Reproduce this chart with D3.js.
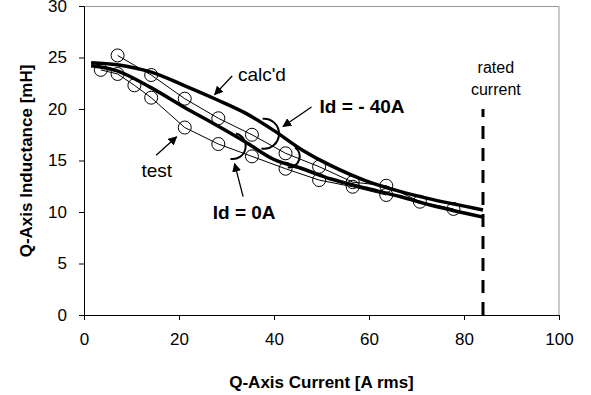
<!DOCTYPE html>
<html>
<head>
    <style>
        body { margin: 0; background: #fff; }
        text { font-family: 'Liberation Sans', Arial, sans-serif; fill: #000; }
        .tick text { font-size: 17px; }
        .title { font-size: 17px; font-weight: bold; }
        .note { font-size: 16px; }
        .callout { font-size: 19px; }
        .bold { font-size: 19px; font-weight: bold; }
    </style>
    <script src="https://cdn.jsdelivr.net/npm/d3@7"></script>
</head>
<body>
<script>
    "use strict";
    // test points, Id = -40A (upper thin line)
    var testNegX = [7.07, 14.14, 21.21, 28.28, 35.36, 42.43, 49.5, 56.57, 63.64, 70.71, 77.78];
    var testNegY = [25.2, 23.3, 21.0, 19.1, 17.5, 15.7, 14.4, 12.9, 12.55, 11.0, 10.3];
    // test points, Id = 0A (lower thin line)
    var testZeroX = [3.54, 7.07, 10.61, 14.14, 21.21, 28.28, 35.36, 42.43, 49.5, 56.57, 63.64];
    var testZeroY = [23.8, 23.4, 22.3, 21.1, 18.2, 16.6, 15.4, 14.2, 13.1, 12.45, 11.65];
    // calculated curves
    var calcX = [1.5, 7, 14, 21, 28, 34, 40, 46, 52, 59.5, 66.5, 73.5, 84];
    var calcNegY = [24.5, 24.3, 23.6, 22.3, 20.9, 19.6, 17.9, 16.0, 14.5, 13.0, 12.0, 11.2, 10.2];
    var calcZeroY = [24.2, 23.7, 22.1, 20.2, 18.4, 16.8, 15.1, 14.2, 13.2, 12.3, 11.5, 10.6, 9.5];
    var ratedCurrent = 84;
    var xTicks = [0, 20, 40, 60, 80, 100];
    var yTicks = [0, 5, 10, 15, 20, 25, 30];

    var margin = { top: 6, left: 84, right: 32, bottom: 80 },
        W = 591, H = 395,
        width = W - margin.left - margin.right,
        height = H - margin.top - margin.bottom;

    var x = d3.scaleLinear().domain([0, 100]).range([0, width]);
    var y = d3.scaleLinear().domain([0, 30]).range([height, 0]);

    var svg = d3.select("body").append("svg")
        .attr("width", W).attr("height", H);

    svg.append("defs").append("marker")
        .attr("id", "head")
        .attr("viewBox", "0 0 10 10")
        .attr("refX", 9).attr("refY", 5)
        .attr("markerWidth", 9).attr("markerHeight", 9)
        .attr("markerUnits", "userSpaceOnUse")
        .attr("orient", "auto")
        .append("path").attr("d", "M0,0L10,5L0,10z").attr("fill", "#000");

    var g = svg.append("g")
        .attr("transform", "translate(" + margin.left + "," + margin.top + ")");

    // gray frame top/right
    g.append("path")
        .attr("d", "M0,0.5H" + width + "V" + height)
        .attr("fill", "none").attr("stroke", "#999").attr("stroke-width", 1);

    g.append("g")
        .attr("transform", "translate(0," + height + ")")
        .call(d3.axisBottom(x).tickValues(xTicks).tickSize(5).tickPadding(13).tickSizeOuter(0));
    g.append("g")
        .call(d3.axisLeft(y).tickValues(yTicks).tickSize(5).tickPadding(12).tickSizeOuter(0));
    g.selectAll(".domain, .tick line").attr("stroke", "#000");
    g.selectAll(".tick text").attr("font-family", null).attr("font-size", null);

    g.append("text").attr("class", "title")
        .attr("x", width / 2).attr("y", height + 73)
        .attr("text-anchor", "middle")
        .text("Q-Axis Current [A rms]");
    g.append("text").attr("class", "title")
        .attr("transform", "rotate(-90)")
        .attr("x", -155).attr("y", -52)
        .attr("text-anchor", "middle")
        .text("Q-Axis Inductance [mH]");

    // rated current marker
    g.append("line")
        .attr("x1", x(ratedCurrent)).attr("x2", x(ratedCurrent))
        .attr("y1", y(0)).attr("y2", y(20))
        .attr("stroke", "#000").attr("stroke-width", 3)
        .attr("stroke-dasharray", "13,9");
    g.append("text").attr("class", "note").attr("text-anchor", "middle")
        .attr("x", x(86.7)).attr("y", y(23.5)).text("rated");
    g.append("text").attr("class", "note").attr("text-anchor", "middle")
        .attr("x", x(86.7)).attr("y", y(21.4)).text("current");

    function pts(xs, ys) { return xs.map(function (v, i) { return [v, ys[i]]; }); }

    var thin = d3.line().x(function (d) { return x(d[0]); }).y(function (d) { return y(d[1]); });
    var thick = d3.line().curve(d3.curveCatmullRom)
        .x(function (d) { return x(d[0]); }).y(function (d) { return y(d[1]); });

    [pts(testNegX, testNegY), pts(testZeroX, testZeroY)].forEach(function (s) {
        g.append("path").datum(s).attr("d", thin)
            .attr("fill", "none").attr("stroke", "#000").attr("stroke-width", 1);
        g.selectAll(null).data(s).enter().append("circle")
            .attr("cx", function (d) { return x(d[0]); })
            .attr("cy", function (d) { return y(d[1]); })
            .attr("r", 6.5)
            .attr("fill", "none").attr("stroke", "#000").attr("stroke-width", 1);
    });

    [pts(calcX, calcNegY), pts(calcX, calcZeroY)].forEach(function (s) {
        g.append("path").datum(s).attr("d", thick)
            .attr("fill", "none").attr("stroke", "#000").attr("stroke-width", 3.5);
    });

    // bracket arcs marking the calc'd curves
    var arcs = [
        { cx: 37.9, cy: 17.6, r: 15, a0: -95, a1: 100 },
        { cx: 43.1, cy: 15.4, r: 11, a0: -55, a1: 95 },
        { cx: 31.3, cy: 16.4, r: 13, a0: -75, a1: 100 }
    ];
    arcs.forEach(function (a) {
        var p = d3.path();
        p.arc(x(a.cx), y(a.cy), a.r, a.a0 * Math.PI / 180, a.a1 * Math.PI / 180);
        g.append("path").attr("d", p.toString())
            .attr("fill", "none").attr("stroke", "#000").attr("stroke-width", 2);
    });

    // annotation arrows: [tailX, tailY, headX, headY]
    var arrows = [
        [31.2, 23.2, 27.5, 21.4],
        [15.2, 15.5, 19.5, 17.3],
        [47.9, 20.2, 41.9, 18.3],
        [33.5, 11.5, 31.7, 14.7]
    ];
    arrows.forEach(function (a) {
        g.append("line")
            .attr("x1", x(a[0])).attr("y1", y(a[1]))
            .attr("x2", x(a[2])).attr("y2", y(a[3]))
            .attr("stroke", "#000").attr("stroke-width", 1.3)
            .attr("marker-end", "url(#head)");
    });

    g.append("text").attr("class", "callout").attr("x", x(32.4)).attr("y", y(22.7)).text("calc'd");
    g.append("text").attr("class", "callout").attr("x", x(12.1)).attr("y", y(13.4)).text("test");
    g.append("text").attr("class", "bold").attr("x", x(49.6)).attr("y", y(19.6)).text("Id = - 40A");
    g.append("text").attr("class", "bold").attr("x", x(27.1)).attr("y", y(9.3)).text("Id = 0A");
</script>
</body>
</html>
